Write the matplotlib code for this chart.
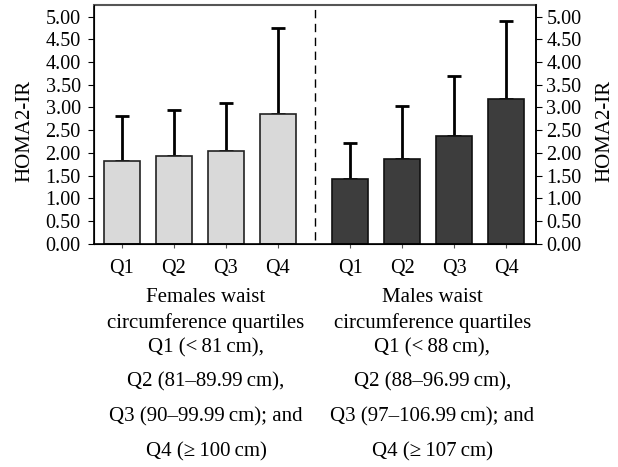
import matplotlib
matplotlib.use("Agg")
import matplotlib.pyplot as plt

categories = ["Q1", "Q2", "Q3", "Q4"]
female_mean = [1.81, 1.94, 2.05, 2.86]
female_sd = [0.99, 1.01, 1.04, 1.89]
male_mean = [1.42, 1.86, 2.37, 3.18]
male_sd = [0.80, 1.17, 1.33, 1.72]
yticks = [0.0, 0.5, 1.0, 1.5, 2.0, 2.5, 3.0, 3.5, 4.0, 4.5, 5.0]
female_text = ["Females waist", "circumference quartiles", "Q1 (<\u200981\u2009cm),",
               "Q2 (81\u201389.99\u2009cm),", "Q3 (90\u201399.99\u2009cm); and", "Q4 (\u2265\u2009100\u2009cm)"]
male_text = ["Males waist", "circumference quartiles", "Q1 (<\u200988\u2009cm),",
             "Q2 (88\u201396.99\u2009cm),", "Q3 (97\u2013106.99\u2009cm); and", "Q4 (\u2265\u2009107\u2009cm)"]

plt.rcParams['font.family'] = ['Liberation Serif', 'DejaVu Serif']
fs = 14.5
fs_txt = 15

fig = plt.figure(figsize=(6.18, 4.67), dpi=100)
ax = fig.add_axes([94/618, 1-243.7/467, (536-94)/618, (243.7-4.7)/467])

xf = [0, 1, 2, 3]
xm = [4.4, 5.4, 6.4, 7.4]
w = 0.69
ax.errorbar(xf, female_mean, yerr=[[0]*4, female_sd], fmt='none', ecolor='black',
            elinewidth=2, capsize=5, capthick=2, zorder=1)
ax.errorbar(xm, male_mean, yerr=[[0]*4, male_sd], fmt='none', ecolor='black',
            elinewidth=2, capsize=5, capthick=2, zorder=1)
ax.bar(xf, female_mean, width=w, color='#d9d9d9', edgecolor='#222222', linewidth=1.2, zorder=2)
ax.bar(xm, male_mean, width=w, color='#3d3d3d', edgecolor='#111111', linewidth=1.2, zorder=2)

ax.axvline(3.72, ymin=0.015, ymax=1, color='black', linestyle=(0, (6, 4)), linewidth=1)

ax.set_xlim(-0.53, 7.97)
ax.set_ylim(0, 5.26)
ax.set_yticks(yticks)
ax.set_yticklabels(["%.2f" % v for v in yticks], fontsize=fs)
ax.set_xticks(xf + xm)
ax.set_xticklabels(categories + categories, fontsize=fs)
ax.tick_params(axis='y', direction='out', length=4.5, width=0.8, pad=5)
ax.tick_params(axis='x', direction='out', length=3, width=0.8, pad=8, color='#555555')
ax.set_ylabel("HOMA2-IR", fontsize=fs_txt, va='center')
ax.yaxis.set_label_coords(-(94-25)/442, 0.47)
for s in ['left', 'bottom', 'right']:
    ax.spines[s].set_linewidth(1.2)
    ax.spines[s].set_color('black')
ax.spines['top'].set_color('#555555')
ax.spines['top'].set_linewidth(1.5)

ax2 = ax.twinx()
ax2.set_ylim(0, 5.26)
ax2.set_yticks(yticks)
ax2.set_yticklabels(["%.2f" % v for v in yticks], fontsize=fs)
ax2.tick_params(axis='y', direction='out', length=4.5, width=0.8, pad=3)
ax2.set_ylabel("HOMA2-IR", fontsize=fs_txt, va='center')
ax2.yaxis.set_label_coords(1 + (605-536)/442, 0.47)
ax2.spines['right'].set_linewidth(1.2)
ax2.spines['top'].set_visible(False)

ys = [297.7, 323, 348, 381.7, 416.7, 451.7]
for t, y in zip(female_text, ys):
    fig.text(206/618, 1-y/467, t, ha='center', va='center', fontsize=fs_txt)
for t, y in zip(male_text, ys):
    fig.text(432.5/618, 1-y/467, t, ha='center', va='center', fontsize=fs_txt)

fig.savefig("out.png", dpi=100)
